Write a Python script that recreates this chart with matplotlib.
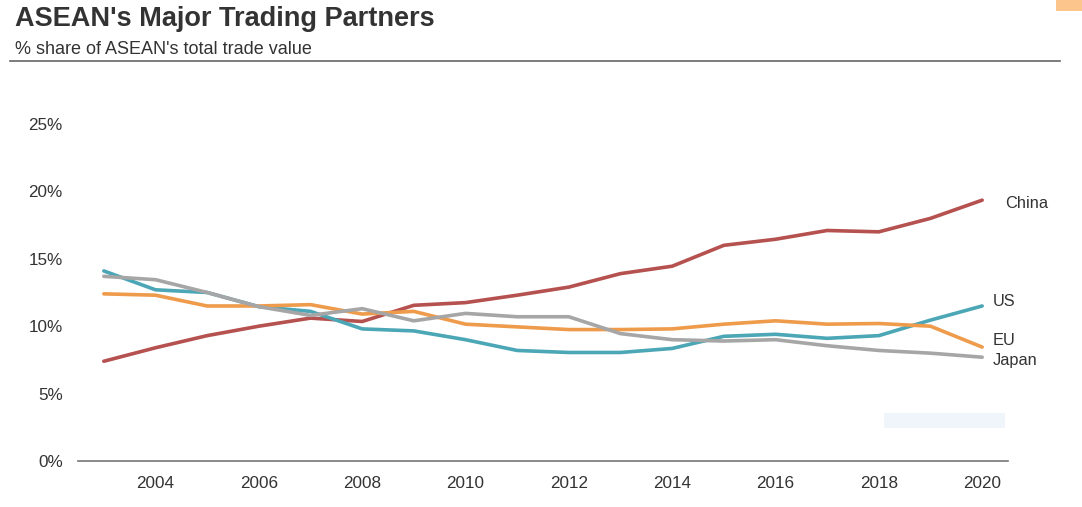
import matplotlib.pyplot as plt
from matplotlib.patches import Rectangle
from matplotlib.lines import Line2D

plt.rcParams['font.family'] = ['Liberation Sans', 'DejaVu Sans']

years = list(range(2003, 2021))
china = [7.4, 8.4, 9.3, 10.0, 10.6, 10.35, 11.55, 11.75, 12.3, 12.9, 13.9, 14.45, 16.0, 16.45, 17.1, 17.0, 18.0, 19.35]
us = [14.1, 12.7, 12.5, 11.45, 11.1, 9.8, 9.65, 9.0, 8.2, 8.05, 8.05, 8.35, 9.25, 9.4, 9.1, 9.3, 10.45, 11.5]
eu = [12.4, 12.3, 11.5, 11.5, 11.6, 10.9, 11.1, 10.15, 9.95, 9.75, 9.75, 9.8, 10.15, 10.4, 10.15, 10.2, 10.0, 8.45]
japan = [13.7, 13.45, 12.5, 11.45, 10.8, 11.3, 10.4, 10.95, 10.7, 10.7, 9.45, 9.0, 8.9, 9.0, 8.55, 8.2, 8.0, 7.7]

series = [('China', china, '#b5514f'), ('US', us, '#4ba6b6'),
          ('EU', eu, '#ee9b4b'), ('Japan', japan, '#a6a6a6')]

fig = plt.figure(figsize=(10.82, 5.07), dpi=100)
ax = fig.add_axes([78/1082, 46/507, 930/1082, 337/507])

for name, vals, col in series:
    ax.plot(years, vals, color=col, lw=2.6, solid_capstyle='round')

# end labels
label_pos = {'China': (2020.45, 19.1), 'US': (2020.2, 11.85), 'EU': (2020.2, 8.95), 'Japan': (2020.2, 7.45)}
for name, vals, col in series:
    x, y = label_pos[name]
    ax.text(x, y, name, fontsize=11.8, color='#333333', va='center', ha='left')

ax.set_xlim(2002.5, 2020.5)
ax.set_ylim(0, 25)
ax.set_xticks(range(2004, 2021, 2))
ax.set_yticks(range(0, 26, 5))
ax.set_yticklabels([f'{v}%' for v in range(0, 26, 5)])
for s in ['top', 'right', 'left']:
    ax.spines[s].set_visible(False)
ax.spines['bottom'].set_color('#777777')
ax.spines['bottom'].set_linewidth(1.2)
ax.tick_params(axis='both', length=0, labelsize=12.3, labelcolor='#333333')
ax.tick_params(axis='x', pad=11)
ax.tick_params(axis='y', pad=11)

# faint watermark box
ax.add_patch(Rectangle((2018.1, 2.45), 2.35, 1.1, color='#eff5fb', zorder=0, lw=0))

fig.text(15/1082, 1 - 19/507, "ASEAN's Major Trading Partners", fontsize=19.5, fontweight='bold',
         color='#333333', va='center', ha='left')
fig.text(15/1082, 1 - 49/507, "% share of ASEAN's total trade value", fontsize=13,
         color='#333333', va='center', ha='left')
fig.add_artist(Line2D([10/1082, 1060/1082], [1 - 61/507, 1 - 61/507], color='#666666', lw=1.2))
fig.add_artist(Rectangle((1056/1082, 1 - 11/507), 26/1082, 11/507, color='#fcc58c', lw=0))

fig.savefig('out.png', dpi=100)
